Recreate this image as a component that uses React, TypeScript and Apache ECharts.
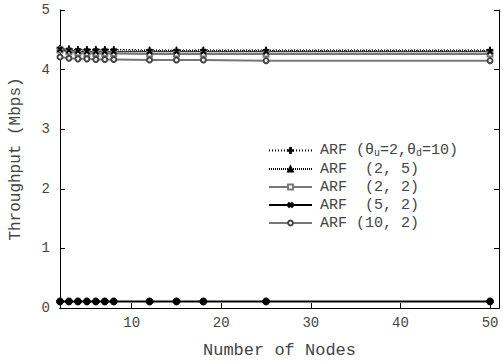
import React, { useEffect, useRef } from "react";
import * as echarts from "echarts";

const nodes = [2, 3, 4, 5, 6, 7, 8, 12, 15, 18, 25, 50];
const arf2_10 = [4.36, 4.35, 4.34, 4.34, 4.34, 4.34, 4.34, 4.33, 4.33, 4.33, 4.33, 4.33];
const arf2_5 = [4.35, 4.34, 4.33, 4.33, 4.33, 4.33, 4.33, 4.32, 4.32, 4.32, 4.32, 4.32];
const arf2_2 = [4.33, 4.30, 4.28, 4.27, 4.27, 4.27, 4.27, 4.26, 4.26, 4.26, 4.26, 4.26];
const arf5_2 = [4.34, 4.32, 4.31, 4.30, 4.30, 4.30, 4.30, 4.30, 4.30, 4.30, 4.30, 4.30];
const arf10_2 = [4.21, 4.19, 4.18, 4.18, 4.17, 4.17, 4.17, 4.16, 4.16, 4.16, 4.15, 4.15];
const baseline = [0.11, 0.11, 0.11, 0.11, 0.11, 0.11, 0.11, 0.11, 0.11, 0.11, 0.11, 0.11];

const xTicks = [10, 20, 30, 40, 50];
const names = ["ARF (θu=2,θd=10)", "ARF  (2, 5)", "ARF  (2, 2)", "ARF  (5, 2)", "ARF (10, 2)"];

const PLUS = "path://M3.4,0H4.6V3.4H8V4.6H4.6V8H3.4V4.6H0V3.4H3.4Z";
const FONT = "'Liberation Mono', 'DejaVu Sans Mono', monospace";
const TXT = "#444";

const pair = (ys: number[]) => nodes.map((x, i) => [x, ys[i]]);

export default function App() {
  const ref = useRef<HTMLDivElement>(null);
  useEffect(() => {
    const chart = echarts.init(ref.current!, null, { renderer: "svg" });
    const mk = (
      name: string,
      data: number[],
      color: string,
      type: any,
      symbol: string,
      size: number,
      width = 1,
      extra: any = {}
    ) => ({
      name,
      type: "line",
      data: pair(data),
      symbol,
      symbolSize: size,
      showSymbol: true,
      lineStyle: { color, width, type },
      itemStyle: { color, borderColor: color, borderWidth: 1 },
      ...extra,
    });
    chart.setOption({
      animation: false,
      grid: { left: 58, right: 4, top: 10, bottom: 50 },
      xAxis: [
        {
          type: "value",
          min: 2,
          max: 51,
          name: "Number of Nodes",
          nameLocation: "middle",
          nameGap: 34,
          nameTextStyle: { fontFamily: FONT, fontSize: 17, color: TXT },
          axisLine: { lineStyle: { color: "#000", width: 1 } },
          axisTick: { inside: true, length: 5, lineStyle: { color: "#000" }, customValues: xTicks },
          axisLabel: { fontFamily: FONT, fontSize: 14, color: TXT, margin: 8, customValues: xTicks },
          splitLine: { show: false },
        } as any,
        {
          type: "value",
          position: "top",
          min: 2,
          max: 51,
          axisLine: { lineStyle: { color: "#000" } },
          axisTick: { show: false },
          axisLabel: { show: false },
          splitLine: { show: false },
        },
      ],
      yAxis: [
        {
          type: "value",
          min: 0,
          max: 5,
          interval: 1,
          name: "Throughput (Mbps)",
          nameLocation: "middle",
          nameGap: 36,
          nameTextStyle: { fontFamily: FONT, fontSize: 16, color: TXT },
          axisLine: { lineStyle: { color: "#000" } },
          axisTick: { inside: true, length: 5, lineStyle: { color: "#000" } },
          axisLabel: { fontFamily: FONT, fontSize: 14, color: TXT, margin: 10 },
          splitLine: { show: false },
        },
        {
          type: "value",
          position: "right",
          min: 0,
          max: 5,
          interval: 1,
          axisLine: { show: true, lineStyle: { color: "#000" } },
          axisTick: { inside: true, length: 5, lineStyle: { color: "#000" } },
          axisLabel: { show: false },
          splitLine: { show: false },
        },
      ],
      legend: {
        data: names,
        orient: "vertical",
        left: 268,
        top: 143,
        padding: 0,
        itemWidth: 43,
        itemHeight: 6,
        itemGap: 3,
        formatter: (n: string) =>
          n === names[0] ? "{a|ARF (θ}{s|u}{a|=2,θ}{s|d}{a|=10)}" : "{a|" + n + "}",
        textStyle: {
          fontFamily: FONT,
          fontSize: 15,
          color: TXT,
          padding: [0, 0, 0, 3],
          rich: {
            a: { fontFamily: FONT, fontSize: 15, color: TXT },
            s: { fontFamily: FONT, fontSize: 10, color: TXT, padding: [6, 0, 0, 0] },
          },
        },
      },
      series: [
        mk(names[0], arf2_10, "#000", [1, 2], PLUS, 6, 1),
        mk(names[1], arf2_5, "#000", [1, 1], "triangle", 5, 1),
        mk(names[2], arf2_2, "#777", "solid", "emptyRect", 5, 2),
        mk(names[3], arf5_2, "#000", "solid", PLUS, 6, 1, { symbolRotate: 45 }),
        mk(names[4], arf10_2, "#777", "solid", "emptyCircle", 5, 2, {
          itemStyle: { color: "#444", borderColor: "#444", borderWidth: 1 },
        }),
        mk("baseline", baseline, "#000", "solid", "circle", 7, 2),
      ],
    });
    return () => chart.dispose();
  }, []);
  return (
    <div
      ref={ref}
      style={{ position: "fixed", left: 0, top: 0, width: 503, height: 364, background: "#fff" }}
    />
  );
}
